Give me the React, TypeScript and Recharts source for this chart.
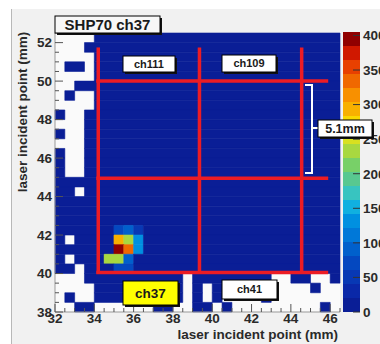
import React from 'react';
import {
  ScatterChart,
  Scatter,
  XAxis,
  YAxis,
  ReferenceArea,
  ReferenceLine,
  BarChart,
  Bar,
} from 'recharts';

// histogram binning, mm
const X_RANGE = [32, 46.5];
const Y_RANGE = [38, 52.5];
const BIN = 0.5;
const Z_MAX = 405;
const LOW_COUNT = 8;

// bin occupancy, top row (52.0-52.5) first, column 32.0-32.5 first.
// '.' = empty bin, 'b' = a few counts. first group = cols 0-3, then groups of 5.
const occupancy = [
  '.... bbbbb bbbbb bbbbb bbbbb bbbbb',
  '...b bbbbb bbbbb bbbbb bbbbb bbbbb',
  '.... bbbbb bbbbb bbbbb bbbbb bbbbb',
  '.bb. bbbbb bbbbb bbbbb bbbbb bbbbb',
  '.... bbbbb bbbbb bbbbb bbbbb bbbbb',
  '..bb bbbbb bbbbb bbbbb bbbbb bbbbb',
  '.b.. bbbbb bbbbb bbbbb bbbbb bbbbb',
  '.... bbbbb bbbbb bbbbb bbbbb bbbbb',
  'b..b bbbbb bbbbb bbbbb bbbbb bbbbb',
  '...b bbbbb bbbbb bbbbb bbbbb bbbbb',
  'b..b bbbbb bbbbb bbbbb bbbbb bbbbb',
  '...b bbbbb bbbbb bbbbb bbbbb bbbbb',
  'b..b bbbbb bbbbb bbbbb bbbbb bbbbb',
  'b..b bbbbb bbbbb bbbbb bbbbb bbbbb',
  'b..b bbbbb bbbbb bbbbb bbbbb bbbbb',
  'bbbb bbbbb bbbbb bbbbb bbbbb bbbbb',
  'bb.b bbbbb bbbbb bbbbb bbbbb bbbbb',
  'bbbb bbbbb bbbbb bbbbb bbbbb bbbbb',
  'bbbb bbbbb bbbbb bbbbb bbbbb bbbbb',
  'bbbb bbbbb bbbbb bbbbb bbbbb bbbbb',
  'bbbb bbbbb bbbbb bbbbb bbbbb bbbbb',
  'b.bb bbbbb bbbbb bbbbb bbbbb bbbbb',
  'bbbb bbbbb bbbbb bbbbb bbbbb bbbbb',
  'b.bb bbbbb bbbbb bbbbb bbbbb bbbbb',
  'bb.b bbbbb bbbbb bbbbb bbbbb bbbbb',
  '...b bbbbb bbbb. bbbbb bbb.. bb..b',
  '.... bbbbb bbbb. b.bbb bb... ..b..',
  '.b.. bbbbb bbbb. b.b.. ..b.. .....',
  '..bb ..... .bb.. bb.b. ..... ...b.',
];

// laser spot: [row, col, counts]
const hotCells = [
  [20, 6, 75], [20, 7, 85], [20, 8, 60],
  [21, 6, 295], [21, 7, 230], [21, 8, 140],
  [22, 6, 395], [22, 7, 335], [22, 8, 135],
  [23, 5, 235], [23, 6, 240], [23, 7, 95],
  [24, 6, 75], [24, 7, 70],
];

// channel boundaries (mm)
const boundaryX = [34.2, 39.35, 44.55];
const boundaryY = [50.0, 44.95, 40.05];
const boundaryXSpan = [34.1, 45.9];
const boundaryYSpan = [40.0, 51.75];

const xMajorTicks = [32, 34, 36, 38, 40, 42, 44, 46];
const yMajorTicks = [38, 40, 42, 44, 46, 48, 50, 52];
const zTicks = [0, 50, 100, 150, 200, 250, 300, 350, 400];

// palette, low to high
const palette = [
  '#0a1e96', '#0a28a8', '#0838b4', '#0448c0', '#0060cc',
  '#0078d8', '#0090e0', '#10b0e0', '#38c4c0', '#58c890',
  '#78d068', '#a8d840', '#d8e020', '#f8d800', '#f8b000',
  '#f89000', '#f06800', '#e84000', '#d01800', '#900000',
];

const FONT = "'Liberation Sans', Arial, Helvetica, sans-serif";
const PLOT = { left: 55, top: 33, right: 340, bottom: 312 };
const BAR_W = 17;

const minorTicks = (lo: number, hi: number) => {
  const out: number[] = [];
  for (let v = lo; v <= hi + 1e-9; v += BIN) out.push(v);
  return out;
};
const xAllTicks = minorTicks(X_RANGE[0], X_RANGE[1]);
const yAllTicks = minorTicks(Y_RANGE[0], Y_RANGE[1]);

const countToColor = (v: number) =>
  palette[Math.min(palette.length - 1, Math.floor(v / (Z_MAX / palette.length)))];

const binColor = (r: number, c: number, row: string) => {
  const hot = hotCells.find((h) => h[0] === r && h[1] === c);
  const v = hot ? hot[2] : row[c] === 'b' ? LOW_COUNT : 0;
  return v > 0 ? countToColor(v) : null;
};

// merge horizontal runs of equal colour into one area
const cells: { x1: number; x2: number; y1: number; y2: number; color: string }[] = [];
occupancy.forEach((raw, r) => {
  const row = raw.replace(/ /g, '');
  let c = 0;
  while (c < row.length) {
    const color = binColor(r, c, row);
    if (!color) {
      c++;
      continue;
    }
    let end = c + 1;
    while (end < row.length && binColor(r, end, row) === color) end++;
    cells.push({
      x1: X_RANGE[0] + c * BIN,
      x2: X_RANGE[0] + end * BIN,
      y1: Y_RANGE[1] - (r + 1) * BIN,
      y2: Y_RANGE[1] - r * BIN,
      color,
    });
    c = end;
  }
});

const colorbarRow = [
  palette.reduce((acc: any, _c, i) => ({ ...acc, [`b${i}`]: Z_MAX / palette.length }), { name: 'z' }),
];

const labelStyle = { fontFamily: FONT, fontWeight: 700, fontSize: 13.5, fill: '#2a2a2a' };

const renderXTick = (props: any) => {
  const { x, payload } = props;
  const major = xMajorTicks.includes(payload.value);
  return (
    <g>
      <line x1={x} x2={x} y1={PLOT.bottom} y2={PLOT.bottom - (major ? 8 : 4)} stroke="#555" />
      {major && (
        <text x={x} y={PLOT.bottom + 11} textAnchor="middle" {...labelStyle}>
          {payload.value}
        </text>
      )}
    </g>
  );
};

const renderYTick = (props: any) => {
  const { y, payload } = props;
  const major = yMajorTicks.includes(payload.value);
  return (
    <g>
      <line x1={PLOT.left} x2={PLOT.left + (major ? 8 : 4)} y1={y} y2={y} stroke="#555" />
      {major && (
        <text x={PLOT.left - 3} y={y + 4.8} textAnchor="end" {...labelStyle}>
          {payload.value}
        </text>
      )}
    </g>
  );
};

const renderZTick = (props: any) => {
  const { y, payload } = props;
  return (
    <g>
      <line x1={BAR_W - 7} x2={BAR_W} y1={y} y2={y} stroke="#333" />
      <text x={BAR_W + 3} y={y + 4.8} textAnchor="start" {...labelStyle}>
        {payload.value}
      </text>
    </g>
  );
};

const boxes = [
  { text: 'SHP70 ch37', x: 55, y: 16, w: 105, h: 17, fill: '#f7f7f7', size: 15 },
  { text: 'ch111', x: 123, y: 56, w: 52, h: 16, fill: '#ffffff', size: 11 },
  { text: 'ch109', x: 222, y: 55, w: 54, h: 17, fill: '#ffffff', size: 11 },
  { text: 'ch37', x: 123, y: 281, w: 55, h: 24, fill: '#ffff00', size: 13.5 },
  { text: 'ch41', x: 222, y: 280, w: 55, h: 19, fill: '#ffffff', size: 11 },
  { text: '5.1mm', x: 318, y: 120, w: 54, h: 17, fill: '#ffffff', size: 12.5 },
];

export default function App() {
  return (
    <div style={{ position: 'absolute', left: 0, top: 0, width: 380, height: 344, background: '#fff', overflow: 'hidden' }}>
      <div
        style={{
          position: 'absolute',
          left: 11,
          top: 9,
          width: 369,
          height: 335,
          background: '#f1f1f1',
          borderLeft: '1px solid #b8b8b8',
        }}
      />
      <div style={{ position: 'absolute', left: 0, top: 0 }}>
        <ScatterChart width={380} height={344} margin={{ top: PLOT.top, right: 380 - PLOT.right, bottom: 2, left: PLOT.left - 30 }}>
          <XAxis
            type="number"
            dataKey="x"
            domain={X_RANGE}
            allowDataOverflow
            ticks={xAllTicks}
            interval={0}
            tick={renderXTick}
            tickLine={false}
            axisLine={{ stroke: '#999' }}
            height={30}
          />
          <YAxis
            type="number"
            dataKey="y"
            domain={Y_RANGE}
            allowDataOverflow
            ticks={yAllTicks}
            interval={0}
            tick={renderYTick}
            tickLine={false}
            axisLine={{ stroke: '#999' }}
            width={30}
          />
          <ReferenceArea
            x1={X_RANGE[0]}
            x2={X_RANGE[1]}
            y1={Y_RANGE[0]}
            y2={Y_RANGE[1]}
            fill="#fafafa"
            fillOpacity={1}
            stroke="none"
          />
          {cells.map((c, i) => (
            <ReferenceArea
              key={`c${i}`}
              x1={c.x1}
              x2={c.x2}
              y1={c.y1}
              y2={c.y2}
              fill={c.color}
              fillOpacity={1}
              stroke={c.color}
              strokeWidth={0.6}
            />
          ))}
          {boundaryX.map((x) => (
            <ReferenceLine
              key={`vx${x}`}
              segment={[{ x, y: boundaryYSpan[0] }, { x, y: boundaryYSpan[1] }]}
              stroke="#ec1c24"
              strokeWidth={3.5}
            />
          ))}
          {boundaryY.map((y) => (
            <ReferenceLine
              key={`hy${y}`}
              segment={[{ x: boundaryXSpan[0], y }, { x: boundaryXSpan[1], y }]}
              stroke="#ec1c24"
              strokeWidth={3.5}
            />
          ))}
          <Scatter data={[]} isAnimationActive={false} />
        </ScatterChart>
      </div>
      <div style={{ position: 'absolute', left: 343, top: 0 }}>
        <BarChart width={37} height={344} data={colorbarRow} margin={{ top: 32, right: 0, bottom: 32, left: 0 }} barCategoryGap={0} barGap={0}>
          <XAxis dataKey="name" hide />
          <YAxis
            orientation="right"
            type="number"
            domain={[0, Z_MAX]}
            ticks={zTicks}
            interval={0}
            tick={renderZTick}
            tickLine={false}
            axisLine={false}
            width={20}
          />
          {palette.map((color, i) => (
            <Bar key={color} dataKey={`b${i}`} stackId="z" fill={color} isAnimationActive={false} />
          ))}
        </BarChart>
      </div>
      <svg width={380} height={344} style={{ position: 'absolute', left: 0, top: 0, pointerEvents: 'none' }}>
        <path d="M305 85 H312 V173 H305 M312 128 H318" stroke="#fff" strokeWidth={2} fill="none" />
        {boxes.map((b) => (
          <g key={b.text}>
            <rect x={b.x + 2} y={b.y + 2} width={b.w} height={b.h} fill="#111" />
            <rect x={b.x} y={b.y} width={b.w} height={b.h} fill={b.fill} stroke="#000" strokeWidth={1} />
            <text
              x={b.x + b.w / 2}
              y={b.y + b.h / 2 + b.size * 0.36}
              textAnchor="middle"
              fontFamily={FONT}
              fontWeight={700}
              fontSize={b.size}
              fill="#1a1a1a"
            >
              {b.text}
            </text>
          </g>
        ))}
        <text x={338} y={339} textAnchor="end" {...labelStyle}>
          laser incident point (mm)
        </text>
        <text transform="translate(27,112) rotate(-90)" textAnchor="middle" {...labelStyle}>
          laser incident point (mm)
        </text>
      </svg>
    </div>
  );
}
